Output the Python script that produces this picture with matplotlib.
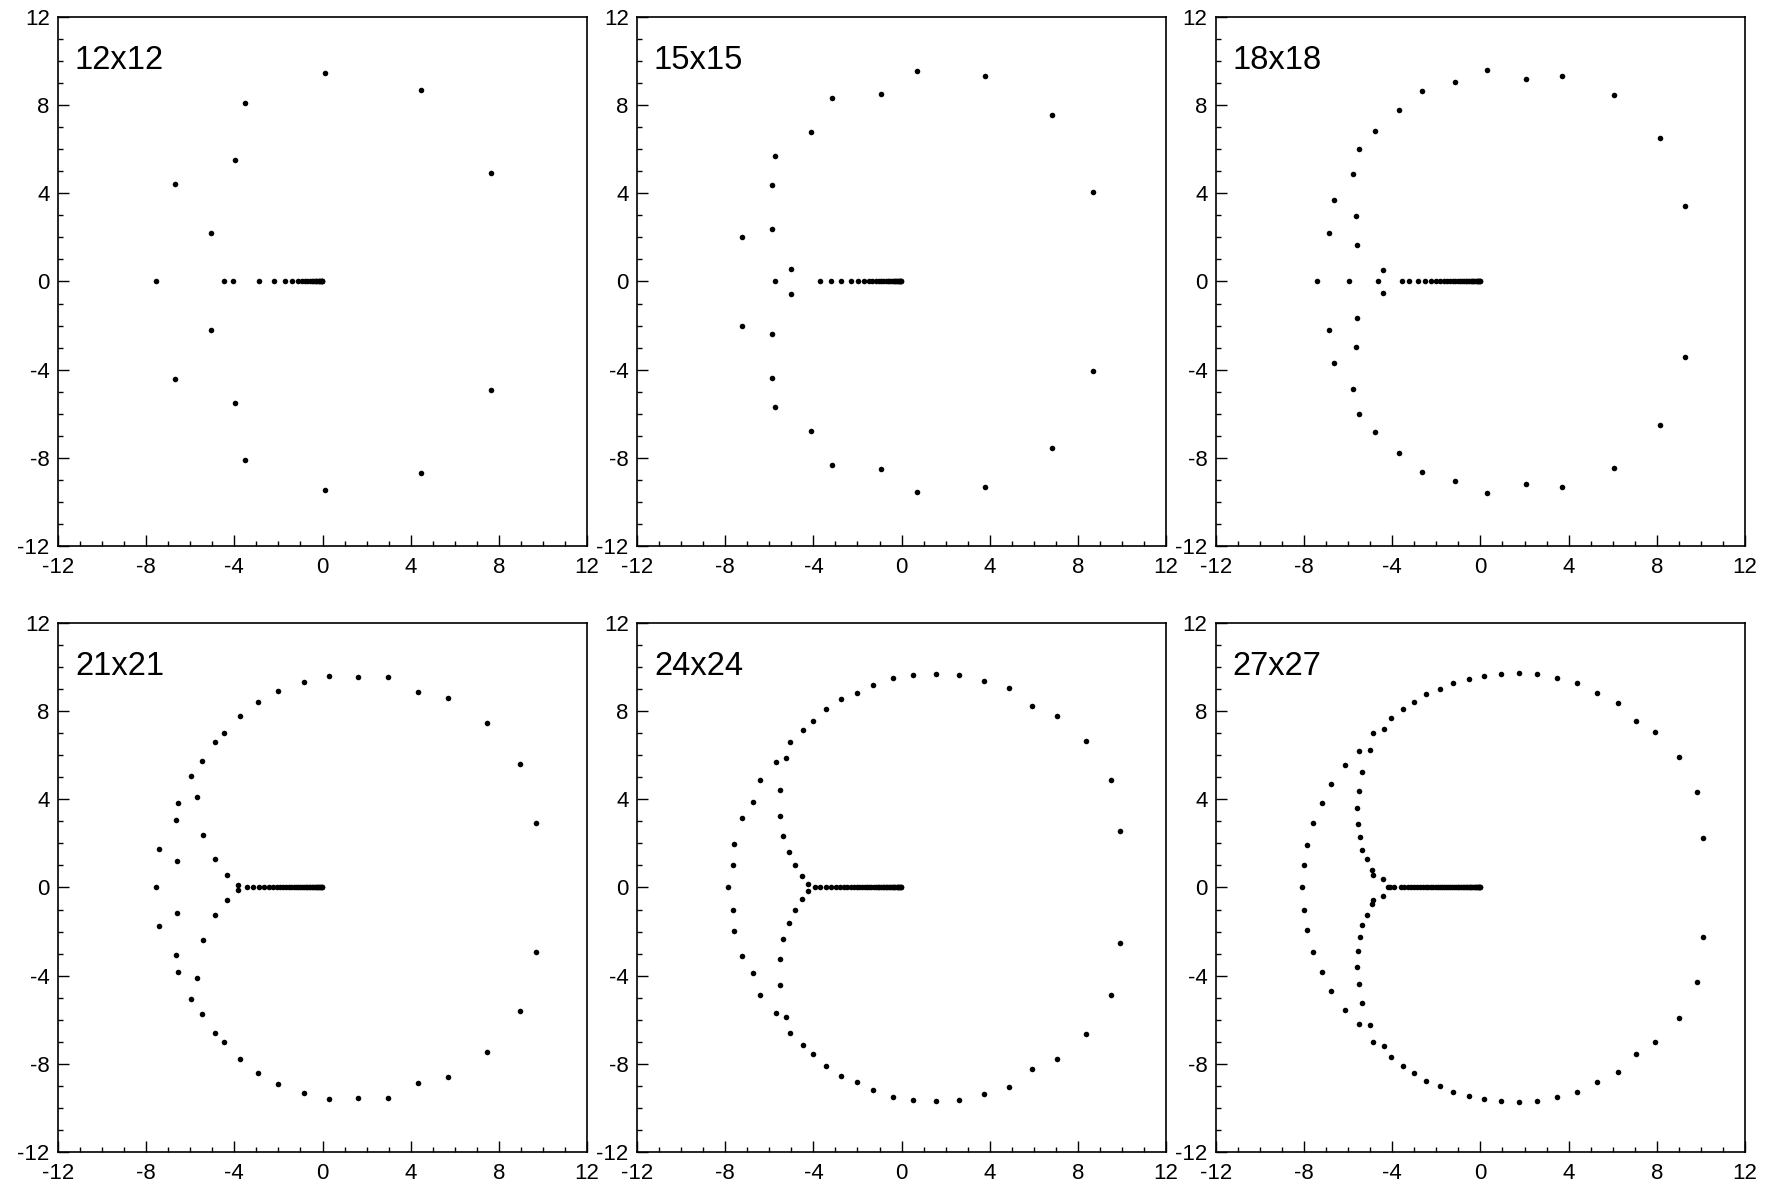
import matplotlib
matplotlib.use("Agg")
import matplotlib.pyplot as plt
from matplotlib.ticker import MultipleLocator

plt.rcParams['font.family'] = ['Liberation Sans', 'DejaVu Sans']
plt.rcParams['axes.unicode_minus'] = False

grids = ["12x12", "15x15", "18x18", "21x21", "24x24", "27x27"]

# eigenvalues on the real axis
real_12 = [-7.56, -4.45, -4.08, -2.87, -2.19, -1.70, -1.38, -1.13, -0.95, -0.81, -0.69,
           -0.59, -0.50, -0.42, -0.35, -0.29, -0.23, -0.18, -0.14, -0.10, -0.07, -0.04,
           -0.02, -0.01]
real_15 = [-5.75, -3.70, -3.22, -2.73, -2.30, -1.97, -1.70, -1.50, -1.32, -1.17, -1.04,
           -0.92, -0.82, -0.72, -0.63, -0.55, -0.48, -0.41, -0.35, -0.29, -0.24, -0.19,
           -0.15, -0.11, -0.08, -0.05, -0.03, -0.01]
real_18 = [-7.43, -5.95, -4.63, -3.56, -3.23, -2.84, -2.53, -2.25, -2.02, -1.82, -1.66,
           -1.50, -1.37, -1.25, -1.14, -1.03, -0.93, -0.84, -0.75, -0.67, -0.59, -0.52,
           -0.45, -0.39, -0.33, -0.27, -0.22, -0.17, -0.13, -0.09, -0.06, -0.03, -0.01]
real_21 = [-7.56, -3.43, -3.14, -2.87, -2.64, -2.42, -2.24, -2.07, -1.92, -1.78, -1.65,
           -1.53, -1.42, -1.31, -1.21, -1.11, -1.02, -0.93, -0.85, -0.77, -0.69, -0.62,
           -0.55, -0.48, -0.42, -0.36, -0.30, -0.25, -0.20, -0.15, -0.11, -0.07, -0.04,
           -0.01]
real_24 = [-7.86, -3.94, -3.68, -3.42, -3.19, -2.99, -2.79, -2.62, -2.46, -2.31, -2.17,
           -2.04, -1.91, -1.79, -1.68, -1.57, -1.47, -1.37, -1.27, -1.18, -1.09, -1.01,
           -0.93, -0.85, -0.78, -0.71, -0.64, -0.57, -0.51, -0.45, -0.39, -0.33, -0.28,
           -0.23, -0.18, -0.14, -0.10, -0.06, -0.03, -0.01]
real_27 = [-8.11, -4.21, -4.11, -3.92, -3.60, -3.45, -3.30, -3.15, -3.01, -2.87, -2.74,
           -2.61, -2.49, -2.37, -2.25, -2.14, -2.03, -1.93, -1.83, -1.73, -1.63, -1.54,
           -1.45, -1.36, -1.27, -1.19, -1.11, -1.03, -0.95, -0.88, -0.81, -0.74, -0.67,
           -0.60, -0.54, -0.48, -0.42, -0.36, -0.31, -0.26, -0.21, -0.16, -0.12, -0.08,
           -0.05, -0.02, -0.01]

# complex eigenvalues, upper half plane (conjugates are drawn too)
pair_x_12 = [0.12, 4.47, -3.54, -3.98, 7.66, -6.70, -5.04]
pair_y_12 = [9.46, 8.67, 8.08, 5.50, 4.92, 4.44, 2.22]

pair_x_15 = [0.69, 3.79, -0.95, -3.14, 6.82, -4.12, -5.73, -5.87, 8.67, -5.87, -7.26, -5.01]
pair_y_15 = [9.56, 9.33, 8.51, 8.34, 7.56, 6.77, 5.69, 4.40, 4.06, 2.36, 2.01, 0.58]

pair_x_18 = [0.32, 3.69, 2.08, -1.15, -2.65, 6.05, -3.71, -4.77, 8.15, -5.49, -5.78,
             -6.65, 9.27, -5.64, -6.85, -5.59, -4.43]
pair_y_18 = [9.58, 9.33, 9.18, 9.03, 8.63, 8.44, 7.80, 6.82, 6.50, 5.99, 4.86,
             3.68, 3.43, 2.99, 2.22, 1.64, 0.51]

pair_x_21 = [0.31, 1.62, 2.99, -0.86, 4.35, -2.01, 5.70, -2.93, -3.74, 7.48, -4.46,
             -4.90, -5.46, 8.98, -5.95, -5.69, -6.54, -6.65, 9.67, -5.41, -7.40, -6.61,
             -4.87, -4.34, -3.85]
pair_y_21 = [9.61, 9.56, 9.56, 9.32, 8.86, 8.93, 8.60, 8.43, 7.79, 7.48, 6.99,
             6.59, 5.73, 5.61, 5.04, 4.11, 3.85, 3.08, 2.93, 2.38, 1.73, 1.18,
             1.27, 0.58, 0.12]

pair_x_24 = [1.56, 0.54, 2.62, -0.41, 3.74, -1.29, 4.89, -2.04, -2.76, 5.93, -3.43,
             7.03, -4.03, -4.48, -5.06, 8.38, -5.26, -5.70, -6.42, 9.49, -5.53, -6.76,
             -5.53, -7.26, 9.93, -5.36, -7.60, -5.09, -7.63, -4.83, -4.52, -4.25]
pair_y_24 = [9.69, 9.66, 9.66, 9.49, 9.35, 9.20, 9.06, 8.84, 8.55, 8.25, 8.08,
             7.79, 7.56, 7.16, 6.59, 6.64, 5.89, 5.70, 4.89, 4.89, 4.43, 3.89,
             3.26, 3.13, 2.54, 2.34, 1.96, 1.62, 1.03, 1.03, 0.54, 0.14]

pair_x_27 = [1.73, 0.92, 2.56, 0.18, 3.46, -0.54, 4.37, -1.23, -1.85, 5.29, -2.45,
             -3.03, 6.24, -3.51, -4.05, 7.05, -4.37, 7.94, -4.89, -5.00, -5.53, -6.16,
             9.03, -5.36, -6.77, 9.82, -5.52, -7.19, -5.58, -5.55, -7.60, 10.10, -5.46,
             -7.86, -5.35, -5.13, -8.00, -4.93, -4.89, -4.41]
pair_y_27 = [9.72, 9.67, 9.67, 9.58, 9.50, 9.47, 9.27, 9.26, 9.01, 8.84, 8.77,
             8.40, 8.38, 8.08, 7.71, 7.57, 7.20, 7.03, 6.99, 6.24, 6.21, 5.55,
             5.90, 5.24, 4.70, 4.31, 4.38, 3.82, 3.60, 2.90, 2.93, 2.24, 2.27,
             1.92, 1.72, 1.27, 1.01, 0.77, 0.58, 0.37]

reals = [real_12, real_15, real_18, real_21, real_24, real_27]
pairs_x = [pair_x_12, pair_x_15, pair_x_18, pair_x_21, pair_x_24, pair_x_27]
pairs_y = [pair_y_12, pair_y_15, pair_y_18, pair_y_21, pair_y_24, pair_y_27]

fig = plt.figure(figsize=(17.8, 11.87), dpi=100)

lefts = [0.0326, 0.3579, 0.6831]
bottoms = [0.540, 0.0295]
w = 0.2972
h = 0.4457

for i in range(6):
    ax = fig.add_axes([lefts[i % 3], bottoms[i // 3], w, h])
    xs = reals[i] + pairs_x[i] + pairs_x[i]
    ys = [0.0] * len(reals[i]) + pairs_y[i] + [-v for v in pairs_y[i]]
    ax.plot(xs, ys, 'o', color='black', markersize=4.0, markeredgewidth=0)
    ax.set_xlim(-12, 12)
    ax.set_ylim(-12, 12)
    ax.xaxis.set_major_locator(MultipleLocator(4))
    ax.yaxis.set_major_locator(MultipleLocator(4))
    ax.xaxis.set_minor_locator(MultipleLocator(1))
    ax.yaxis.set_minor_locator(MultipleLocator(1))
    ax.tick_params(which='both', direction='in', top=False, right=False,
                   labelsize=16, width=1.0, colors='black')
    ax.tick_params(which='major', length=7.8)
    ax.tick_params(which='minor', length=3.8)
    ax.tick_params(axis='x', which='major', pad=8)
    ax.tick_params(axis='y', which='major', pad=6)
    for s in ax.spines.values():
        s.set_linewidth(1.2)
    ax.text(0.032, 0.901, grids[i], transform=ax.transAxes, fontsize=23.5,
            ha='left', va='baseline')

fig.savefig("out.png", dpi=100)
